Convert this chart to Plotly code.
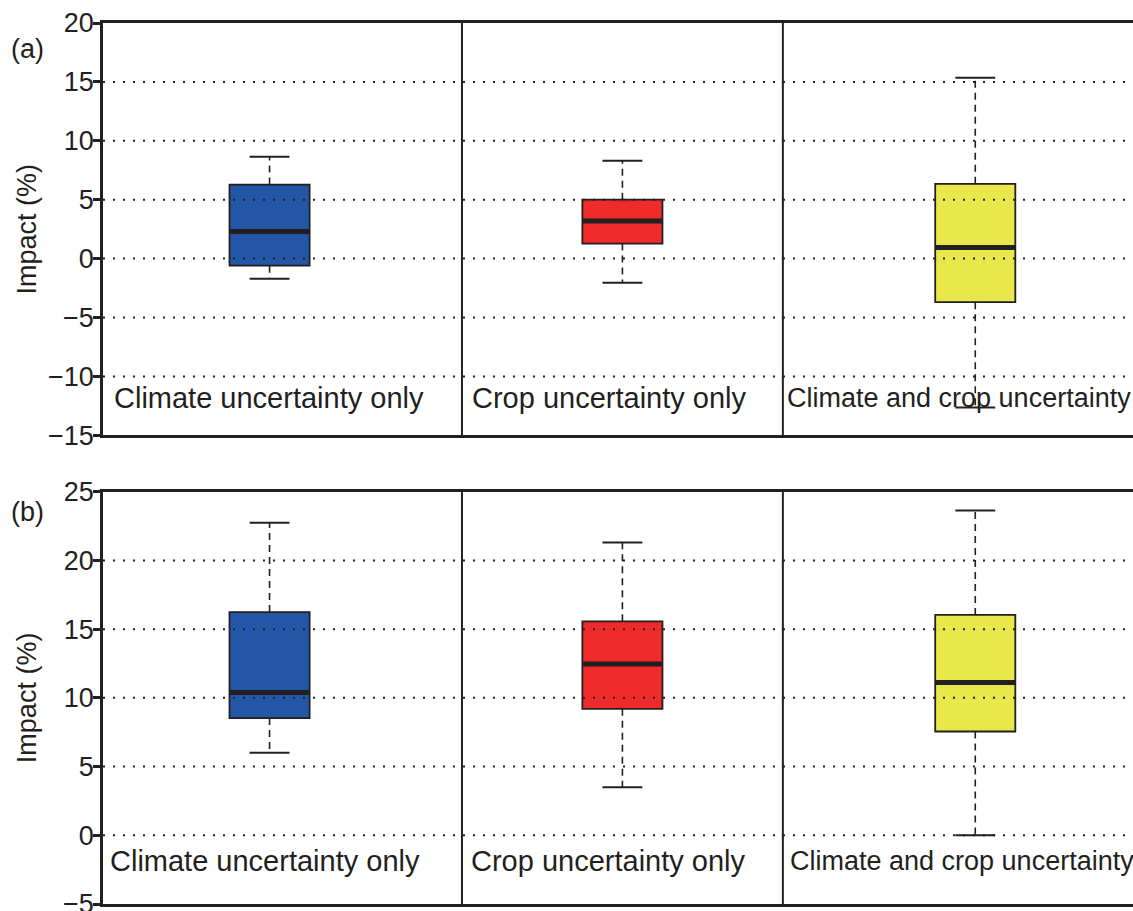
import plotly.graph_objects as go

# ---- data ----
categories = ["Climate uncertainty only", "Crop uncertainty only", "Climate and crop uncertainty"]
positions = [1, 2, 3]
colors = ["#2356a6", "#ee2a2b", "#e9e74b"]

# panel (a)
a_lower = [-1.7, -2.05, -12.65]
a_q1 = [-0.6, 1.28, -3.7]
a_median = [2.3, 3.2, 0.95]
a_q3 = [6.28, 5.0, 6.35]
a_upper = [8.64, 8.3, 15.35]

# panel (b)
b_lower = [6.0, 3.5, 0.0]
b_q1 = [8.53, 9.2, 7.55]
b_median = [10.38, 12.47, 11.12]
b_q3 = [16.24, 15.57, 16.03]
b_upper = [22.74, 21.3, 23.63]

a_ticks = [-15, -10, -5, 0, 5, 10, 15, 20]
b_ticks = [-5, 0, 5, 10, 15, 20, 25]
panel_tags = ["(a)", "(b)"]

# ---- style ----
INK = "#231f20"
FONT = "Liberation Sans, Arial, sans-serif"
BOX_W = 0.227
CAP_W = 0.113
SEP_OFF = 0.4547
LABEL_SIZES = [29, 29, 27]

fig = go.Figure()

panels = [
    dict(xa="x", ya="y", lower=a_lower, q1=a_q1, med=a_median, q3=a_q3, upper=a_upper,
         ticks=a_ticks, rng=[-15, 20], dom=[0.532, 1.0], lab_y=0.09, lab_x=[0.553, 1.567, 2.462]),
    dict(xa="x2", ya="y2", lower=b_lower, q1=b_q1, med=b_median, q3=b_q3, upper=b_upper,
         ticks=b_ticks, rng=[-5, 25], dom=[0.0, 0.468], lab_y=0.104, lab_x=[0.543, 1.565, 2.470]),
]

shapes = []
annotations = []
for pi, p in enumerate(panels):
    xa, ya = p["xa"], p["ya"]
    for i, xpos in enumerate(positions):
        # box body
        fig.add_trace(go.Box(
            x=[xpos], q1=[p["q1"][i]], median=[p["med"][i]], q3=[p["q3"][i]],
            lowerfence=[p["q1"][i]], upperfence=[p["q3"][i]],
            width=BOX_W, whiskerwidth=0, fillcolor=colors[i],
            line=dict(color=INK, width=1.8), xaxis=xa, yaxis=ya,
            showlegend=False, hoverinfo="skip", boxpoints=False))
        # thick median
        fig.add_trace(go.Scatter(
            x=[xpos - BOX_W / 2, xpos + BOX_W / 2], y=[p["med"][i], p["med"][i]],
            mode="lines", line=dict(color=INK, width=5), xaxis=xa, yaxis=ya,
            showlegend=False, hoverinfo="skip"))
        # dashed whiskers
        for a_, b_ in [(p["q3"][i], p["upper"][i]), (p["q1"][i], p["lower"][i])]:
            fig.add_trace(go.Scatter(
                x=[xpos, xpos], y=[a_, b_], mode="lines",
                line=dict(color=INK, width=1.6, dash="7px,5px"), xaxis=xa, yaxis=ya,
                showlegend=False, hoverinfo="skip"))
        # caps
        for v in [p["upper"][i], p["lower"][i]]:
            fig.add_trace(go.Scatter(
                x=[xpos - CAP_W / 2, xpos + CAP_W / 2], y=[v, v], mode="lines",
                line=dict(color=INK, width=2), xaxis=xa, yaxis=ya,
                showlegend=False, hoverinfo="skip"))
        # category label
        annotations.append(dict(
            text=categories[i], x=p["lab_x"][i], y=p["lab_y"], xref=xa, yref=ya + " domain",
            xanchor="left", yanchor="middle", showarrow=False,
            font=dict(family=FONT, size=LABEL_SIZES[i], color=INK)))
    # dotted grid lines above boxes
    for t in p["ticks"][1:-1]:
        shapes.append(dict(type="line", xref=xa + " domain", yref=ya, x0=0, x1=1, y0=t, y1=t,
                           line=dict(color=INK, width=2, dash="2px,8px"), layer="above"))
    # panel separators
    for sx in [positions[1] - SEP_OFF, positions[1] + SEP_OFF]:
        shapes.append(dict(type="line", xref=xa, yref=ya + " domain", x0=sx, x1=sx, y0=0, y1=1,
                           line=dict(color=INK, width=2), layer="above"))
    # y title
    annotations.append(dict(
        text="Impact (%)", x=-0.0735, y=0.5, xref="paper", yref=ya + " domain",
        xanchor="center", yanchor="middle", textangle=-90, showarrow=False,
        font=dict(family=FONT, size=27, color=INK)))
    # panel tag
    annotations.append(dict(
        text=panel_tags[pi], x=-0.073, y=[0.936, 0.95][pi], xref="paper", yref=ya + " domain",
        xanchor="center", yanchor="middle", showarrow=False,
        font=dict(family=FONT, size=27, color=INK)))

xcommon = dict(range=[0.528, 3.447], showticklabels=False, ticks="", showgrid=False,
               zeroline=False, showline=True, mirror=True, linecolor=INK, linewidth=2.5,
               automargin=False)
ycommon = dict(showgrid=False, zeroline=False, showline=True, mirror=False, linecolor=INK,
               linewidth=2.5, ticks="outside", ticklen=7, tickwidth=2.5, tickcolor=INK,
               tickfont=dict(family=FONT, size=27, color=INK), tickmode="array",
               ticklabelstandoff=-6, automargin=False, ticklabeloverflow="allow")

fig.update_layout(
    width=1133, height=911,
    margin=dict(l=103, r=0, t=23, b=7, autoexpand=False),
    paper_bgcolor="white", plot_bgcolor="white",
    xaxis=dict(**xcommon, anchor="y"),
    xaxis2=dict(**xcommon, anchor="y2"),
    yaxis=dict(**ycommon, range=panels[0]["rng"], domain=panels[0]["dom"], tickvals=a_ticks, anchor="x"),
    yaxis2=dict(**ycommon, range=panels[1]["rng"], domain=panels[1]["dom"], tickvals=b_ticks, anchor="x2"),
    shapes=shapes, annotations=annotations,
)

fig.write_html("out.html", config={"displayModeBar": False},
               post_script="document.body.style.margin='0';document.body.style.overflow='hidden';")
